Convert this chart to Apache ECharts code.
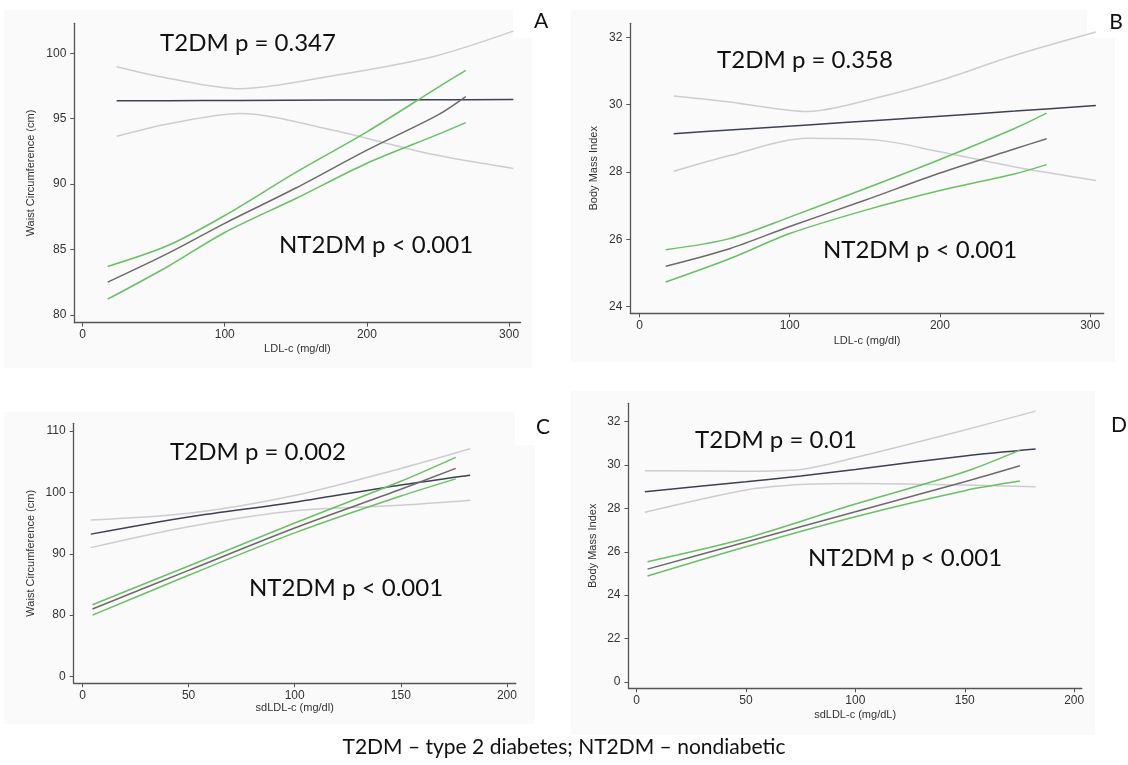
<!DOCTYPE html>
<html>
<head>
<meta charset="utf-8">
<title>LDL-c / sdLDL-c vs waist circumference and BMI</title>
<script src="https://cdn.jsdelivr.net/npm/echarts@6/dist/echarts.min.js"></script>
<style>
  html, body { margin: 0; padding: 0; background: #fff; }
  #chart { width: 1128px; height: 765px; }
</style>
</head>
<body>
<div id="chart"></div>
<script>
// ---- panel A: LDL-c vs waist circumference ----
const aT2X = [24, 60, 111, 177, 245, 303]
const aT2Fit = [96.37, 96.38, 96.4, 96.43, 96.45, 96.47]
const aT2Upper = [98.97, 98.1, 97.3, 98.3, 99.7, 101.7]
const aT2Lower = [93.66, 94.6, 95.4, 94.1, 92.3, 91.2]
const aNtX = [17.7, 60, 100, 150, 200, 250, 269.5]
const aNtFit = [82.5, 84.7, 87.0, 89.7, 92.6, 95.3, 96.7]
const aNtUpper = [83.7, 85.3, 87.6, 90.9, 94.0, 97.4, 98.7]
const aNtLower = [81.2, 83.7, 86.3, 88.9, 91.6, 93.8, 94.7]

// ---- panel B: LDL-c vs BMI ----
const bT2X = [22.8, 60, 112, 160, 200, 250, 303.8]
const bT2Fit = [29.14, 29.25, 29.4, 29.54, 29.66, 29.81, 29.98]
const bT2Upper = [30.26, 30.08, 29.8, 30.23, 30.72, 31.47, 32.16]
const bT2Lower = [28.02, 28.49, 29.0, 28.94, 28.6, 28.15, 27.75]
const bNtX = [17.5, 60, 100, 150, 200, 250, 271]
const bNtFit = [25.2, 25.72, 26.38, 27.16, 27.97, 28.69, 28.99]
const bNtUpper = [25.69, 26.02, 26.66, 27.5, 28.37, 29.3, 29.75]
const bNtLower = [24.73, 25.42, 26.17, 26.86, 27.45, 27.95, 28.22]

// ---- panel C: sdLDL-c vs waist circumference ----
const cT2X = [3.9, 50, 100, 150, 182.7]
const cT2Fit = [93.2, 96.0, 98.4, 101.2, 102.8]
const cT2Upper = [95.5, 96.6, 99.5, 103.9, 107.1]
const cT2Lower = [91.0, 94.4, 97.0, 97.9, 98.7]
const cNtX = [4.7, 50, 100, 150, 175.9]
const cNtFit = [81.0, 87.3, 94.2, 100.5, 103.9]
const cNtUpper = [81.7, 88.0, 95.0, 101.8, 105.7]
const cNtLower = [80.0, 86.5, 93.4, 99.4, 102.2]

// ---- panel D: sdLDL-c vs BMI ----
const dT2X = [3.8, 50, 75, 100, 150, 182.4]
const dT2Fit = [28.77, 29.23, 29.5, 29.8, 30.42, 30.74]
const dT2Upper = [29.74, 29.72, 29.8, 30.35, 31.62, 32.49]
const dT2Lower = [27.82, 28.85, 29.1, 29.15, 29.08, 29.0]
const dNtX = [5, 50, 100, 150, 175.2]
const dNtFit = [25.2, 26.45, 27.85, 29.23, 29.97]
const dNtUpper = [25.54, 26.62, 28.2, 29.69, 30.69]
const dNtLower = [24.88, 26.23, 27.62, 28.82, 29.26]

// tick values / labels (C and D have a broken y axis: bottom tick reads "0")
const ldlTicks = [0, 100, 200, 300]
const sdldlTicks = [0, 50, 100, 150, 200]
const yTicksA = [80, 85, 90, 95, 100]
const yTicksB = [24, 26, 28, 30, 32]
const yTicksC = [70, 80, 90, 100, 110]
const yLabelsC = ['0', '80', '90', '100', '110']
const yTicksD = [20, 22, 24, 26, 28, 30, 32]
const yLabelsD = ['0', '22', '24', '26', '28', '30', '32']

const pLabels = ['T2DM p = 0.347', 'T2DM p = 0.358', 'T2DM p = 0.002', 'T2DM p = 0.01']
const ntLabel = 'NT2DM p < 0.001'
const caption = 'T2DM \u2013 type 2 diabetes; NT2DM \u2013 nondiabetic'

const T2_FIT = '#3c4250'
const T2_CI = '#cdcdd1'
const NT_FIT = '#6f6a6a'
const NT_CI = '#68c163'
const AXIS = '#555'
const TXT = '#333'
const PANEL_BG = '#fafafa'
const SANS = '"Liberation Sans", Arial, sans-serif'
const CAL = 'Lato, "Open Sans", sans-serif'

const chart = echarts.init(document.getElementById('chart'))

const zip = (xs, ys) => xs.map((x, i) => [x, ys[i]])

const lineSeries = (idx, xs, ys, color) => ({
  type: 'line',
  xAxisIndex: idx,
  yAxisIndex: idx,
  data: zip(xs, ys),
  smooth: 0.3,
  symbol: 'none',
  silent: true,
  lineStyle: { color: color, width: 1.5 },
  z: 3
})

const panelSeries = (idx, t2x, t2f, t2u, t2l, ntx, ntf, ntu, ntl) => [
  lineSeries(idx, t2x, t2u, T2_CI),
  lineSeries(idx, t2x, t2l, T2_CI),
  lineSeries(idx, t2x, t2f, T2_FIT),
  lineSeries(idx, ntx, ntu, NT_CI),
  lineSeries(idx, ntx, ntl, NT_CI),
  lineSeries(idx, ntx, ntf, NT_FIT)
]

const xAxisOf = (idx, min, max, ticks, name, gap) => ({
  type: 'value',
  gridIndex: idx,
  min: min,
  max: max,
  name: name,
  nameLocation: 'middle',
  nameGap: gap,
  nameTextStyle: { fontFamily: SANS, fontSize: 11, color: TXT },
  splitLine: { show: false },
  axisLine: { onZero: false, lineStyle: { color: AXIS, width: 1.3 } },
  axisTick: { length: 4, customValues: ticks, lineStyle: { color: AXIS } },
  axisLabel: { customValues: ticks, margin: 6, fontFamily: SANS, fontSize: 12, color: TXT }
})

const yAxisOf = (idx, min, max, ticks, labels, name, gap) => ({
  type: 'value',
  gridIndex: idx,
  min: min,
  max: max,
  name: name,
  nameLocation: 'middle',
  nameGap: gap,
  nameTextStyle: { fontFamily: SANS, fontSize: 11, color: TXT },
  splitLine: { show: false },
  axisLine: { show: true, onZero: false, lineStyle: { color: AXIS, width: 1.3 } },
  axisTick: { show: true, length: 4, customValues: ticks, lineStyle: { color: AXIS } },
  axisLabel: {
    customValues: ticks,
    margin: 8,
    fontFamily: SANS,
    fontSize: 12,
    color: TXT,
    formatter: v => {
      const i = ticks.indexOf(v)
      return labels && i >= 0 ? labels[i] : String(v)
    }
  }
})

const bigText = (x, y, text, size) => ({
  type: 'text',
  x: x,
  y: y,
  z: 10,
  style: {
    text: text,
    fill: '#111',
    font: size + 'px ' + CAL,
    textAlign: 'center',
    textVerticalAlign: 'middle'
  }
})

const rect = (x, y, w, h, fill, z) => ({
  type: 'rect',
  z: z,
  silent: true,
  shape: { x: x, y: y, width: w, height: h },
  style: { fill: fill }
})

const option = {
  backgroundColor: '#fff',
  animation: false,
  grid: [
    { left: 74.3, top: 23.3, width: 446.2, height: 299.4 },
    { left: 630.3, top: 23.3, width: 473.4, height: 290 },
    { left: 73.6, top: 423.3, width: 442.2, height: 260 },
    { left: 628.5, top: 403.3, width: 453.3, height: 285 }
  ],
  xAxis: [
    xAxisOf(0, -5.8, 308, ldlTicks, 'LDL-c (mg/dl)', 21),
    xAxisOf(1, -6.1, 309, ldlTicks, 'LDL-c (mg/dl)', 22),
    xAxisOf(2, -4.2, 204.2, sdldlTicks, 'sdLDL-c (mg/dl)', 19),
    xAxisOf(3, -3.7, 203.5, sdldlTicks, 'sdLDL-c (mg/dL)', 21)
  ],
  yAxis: [
    yAxisOf(0, 79.4, 102.3, yTicksA, null, 'Waist Circumference (cm)', 38),
    yAxisOf(1, 23.8, 32.42, yTicksB, null, 'Body Mass Index', 31),
    yAxisOf(2, 68.9, 111.25, yTicksC, yLabelsC, 'Waist Circumference (cm)', 37),
    yAxisOf(3, 19.7, 32.85, yTicksD, yLabelsD, 'Body Mass Index', 30)
  ],
  series: [
    ...panelSeries(0, aT2X, aT2Fit, aT2Upper, aT2Lower, aNtX, aNtFit, aNtUpper, aNtLower),
    ...panelSeries(1, bT2X, bT2Fit, bT2Upper, bT2Lower, bNtX, bNtFit, bNtUpper, bNtLower),
    ...panelSeries(2, cT2X, cT2Fit, cT2Upper, cT2Lower, cNtX, cNtFit, cNtUpper, cNtLower),
    ...panelSeries(3, dT2X, dT2Fit, dT2Upper, dT2Lower, dNtX, dNtFit, dNtUpper, dNtLower)
  ],
  graphic: [
    // faint panel backgrounds, with white corners where the panel letters sit
    rect(4, 10, 528, 358, PANEL_BG, -20),
    rect(513, 0, 47, 38, '#fff', -19),
    rect(571, 10, 544, 352, PANEL_BG, -20),
    rect(1087, 0, 41, 38, '#fff', -19),
    rect(4, 412, 531, 312, PANEL_BG, -20),
    rect(515, 405, 45, 40, '#fff', -19),
    rect(571, 391, 524, 344, PANEL_BG, -20),

    bigText(248, 43, pLabels[0], 24),
    bigText(376, 245, ntLabel, 24),
    bigText(805, 60, pLabels[1], 24),
    bigText(920, 250, ntLabel, 24),
    bigText(258, 452, pLabels[2], 24),
    bigText(346, 588, ntLabel, 24),
    bigText(776, 440, pLabels[3], 24),
    bigText(905, 558, ntLabel, 24),

    bigText(541, 21, 'A', 21),
    bigText(1116, 22, 'B', 21),
    bigText(543, 427, 'C', 21),
    bigText(1119, 425, 'D', 21),

    bigText(564, 747, caption, 21)
  ]
}

chart.setOption(option)

window.addEventListener('resize', () => chart.resize())
</script>
</body>
</html>
